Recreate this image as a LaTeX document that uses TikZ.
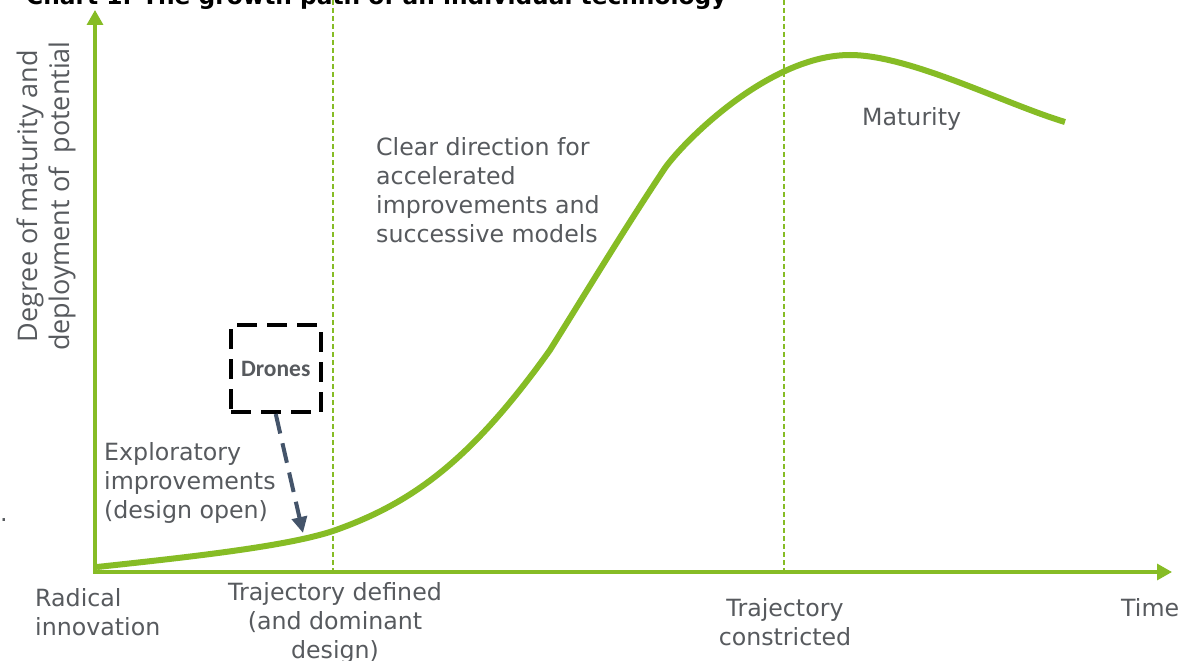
\documentclass[tikz,border=0pt]{standalone}
\usepackage{fontspec}
\setmainfont{DejaVu Sans}
\newfontfamily\opensans{Open Sans}
\newfontfamily\carlito{Carlito}
\usetikzlibrary{arrows.meta}
\definecolor{dgreen}{HTML}{86BC25}
\definecolor{dgray}{HTML}{575A5E}
\definecolor{slate}{HTML}{44546A}
\begin{document}
\begin{tikzpicture}[x=1pt,y=-1pt,
  lbl/.style={text=dgray,font=\fontsize{23.7}{29}\selectfont,inner sep=0pt,align=left},
  clbl/.style={lbl,align=center},
  axes/.style={dgreen,line width=3.2pt,{Triangle[length=15pt,width=16pt]}-{Triangle[length=15pt,width=16pt]}},
  guide/.style={dgreen,line width=1.3pt,dash pattern=on 5pt off 3pt},
  growth/.style={dgreen,line width=6pt},
  dronebox/.style={draw=black,line width=4pt,dash pattern=on 20pt off 10pt,minimum width=89.5pt,minimum height=87pt,inner sep=0pt,text=dgray,font=\carlito\bfseries\fontsize{23.5}{28}\selectfont},
  pointer/.style={slate,line width=4pt,dash pattern=on 20pt off 10pt,-{Triangle[length=16pt,width=15pt]}}
]
\useasboundingbox (0,0) rectangle (1179,661);
\fill[white] (0,0) rectangle (1179,661);

% title (cut at top, as in the reference)
\node[anchor=base west,inner sep=0pt,font=\bfseries\fontsize{23.3}{28}\selectfont] (title) at (26,4.5) {Chart 1. The growth path of an individual technology};

% guides
\coordinate (g1top) at (333,0);
\coordinate (g1bot) at (333,570);
\coordinate (g2top) at (784,0);
\coordinate (g2bot) at (784,570);
\draw[guide] (g1top) -- (g1bot);
\draw[guide] (g2top) -- (g2bot);

% axes
\coordinate (ytip) at (95,10);
\coordinate (O) at (95,572);
\coordinate (xtip) at (1172,572);
\draw[axes] (ytip) -- (O) -- (xtip);

% growth curve
\coordinate (c0) at (97,567);
\coordinate (c1) at (333,531);
\coordinate (c2) at (550,350);
\coordinate (c3) at (665,168);
\coordinate (c4) at (850,55);
\coordinate (c5) at (1065,122);
\draw[growth] (c0) .. controls (180,558) and (285,547) .. (c1)
  .. controls (412,503.4) and (471,460.6) .. (c2)
  .. controls (590,286) and (625,228) .. (c3)
  .. controls (685,140) and (770,55) .. (c4)
  .. controls (910,55) and (1005,104) .. (c5);

% drones
\node[dronebox] (drones) at (275.75,368.5) {Drones};
\coordinate (target) at (303,533);
\draw[pointer] (drones.south) -- (target);

% labels (anchored at the baseline of their last line)
\node[lbl,anchor=base west] (clear) at (376,242) {Clear direction for\\accelerated\\improvements and\\successive models};
\node[lbl,anchor=base west] (explor) at (104,518) {Exploratory\\improvements\\(design open)};
\node[lbl,anchor=base west] (maturity) at (862,125) {Maturity};
\node[lbl,anchor=base west] (radical) at (35,635) {Radical\\innovation};
\node[clbl,anchor=base] (tdef) at (335,658) {Trajectory defined\\(and dominant\\design)};
\node[clbl,anchor=base] (tcon) at (785,645) {Trajectory\\constricted};
\node[lbl,anchor=base west] (time) at (1121,616) {Time};
\node[lbl,anchor=base west] (dot) at (0,521) {.};

% y label
\node[text=dgray,font=\opensans\fontsize{27}{32}\selectfont,inner sep=0pt,align=center,rotate=90] (ylabel) at (46,196) {Degree of maturity and\\deployment of~~potential};
\end{tikzpicture}
\end{document}
